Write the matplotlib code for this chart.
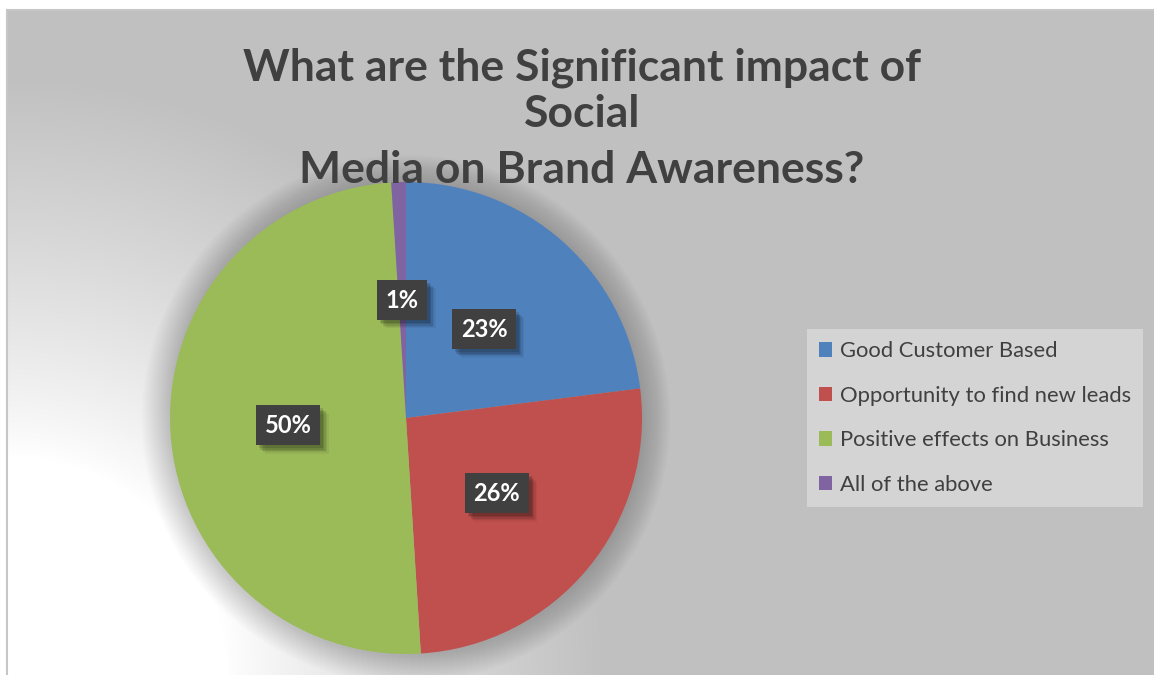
import numpy as np
import matplotlib
matplotlib.use("Agg")
import matplotlib.pyplot as plt
from matplotlib.patches import Circle
import matplotlib.patheffects as pe

# Survey data
categories = ["Good Customer Based", "Opportunity to find new leads",
              "Positive effects on Business", "All of the above"]
shares = [23, 26, 50, 1]
colors = ["#4f81bd", "#c0504d", "#9bbb59", "#8064a2"]
title_lines = ["What are the Significant impact of", "Social",
               "Media on Brand Awareness?"]

W, H = 1154, 675
fig = plt.figure(figsize=(W / 100, H / 100), dpi=100)
fig.patch.set_facecolor("white")

# Chart area with radial white-to-grey gradient from the lower-left corner
left_px, top_px = 7, 10
bg = fig.add_axes([left_px / W, 0, 1 - left_px / W, 1 - top_px / H])
gw, gh = W - left_px, H - top_px
yy, xx = np.mgrid[0:gh, 0:gw]
dist = np.hypot(xx, gh - yy)
t = np.clip((dist - 220) / (600 - 220), 0, 1)
t = t ** 0.85
level = 1.0 - t * (1.0 - 192 / 255)
bg.imshow(np.dstack([level] * 3), extent=(0, gw, gh, 0), aspect="auto",
          interpolation="bilinear")
bg.set_xlim(0, gw)
bg.set_ylim(gh, 0)
bg.set_xticks([])
bg.set_yticks([])
for side in ("bottom", "right"):
    bg.spines[side].set_visible(False)
for side in ("left", "top"):
    bg.spines[side].set_color("#c6c6c6")
    bg.spines[side].set_linewidth(1.5)

# Pie axes
cx, cy, R = 406, 418, 236
scale = 1.25
ax = fig.add_axes([(cx - R * scale) / W, (H - cy - R * scale) / H,
                   2 * R * scale / W, 2 * R * scale / H])
ax.axis("off")

# soft shadow around the pie
n = 16
for i in range(n):
    ax.add_patch(Circle((0.0, -0.005), 1.0 + 0.12 * (i + 1) / n,
                        facecolor="black", edgecolor="none", alpha=0.011,
                        zorder=0))

wedges, texts, autotexts = ax.pie(
    shares, colors=colors, startangle=90, counterclock=False, radius=1.0,
    autopct="%1.0f%%", pctdistance=0.5,
    wedgeprops=dict(linewidth=0, zorder=2),
    textprops=dict(color="white", fontsize=17, fontweight="bold",
                   family="Lato"))
ax.set_xlim(-scale, scale)
ax.set_ylim(-scale, scale)

# dark data-label boxes with a soft drop shadow
shadow = [pe.SimplePatchShadow(offset=(o, -o), shadow_rgbFace="black",
                               alpha=a)
          for o, a in ((6, 0.05), (5, 0.07), (4, 0.09), (3, 0.12), (2, 0.12))]
for at in autotexts:
    at.set_zorder(5)
    at.set_bbox(dict(boxstyle="square,pad=0.36", facecolor="#404040",
                     edgecolor="none", linewidth=0))
    at.get_bbox_patch().set_path_effects(shadow + [pe.Normal()])

# Title
title_y = [68, 114, 170]
for line, y in zip(title_lines, title_y):
    fig.text(582 / W, 1 - y / H, line, ha="center", va="center",
             fontsize=32, fontweight="bold", color="#404040", family="Lato")

# Legend
leg = fig.legend(wedges, categories, loc="center",
                 bbox_to_anchor=(807 / W, 1 - 508 / H, 336 / W, 180 / H),
                 frameon=True, fancybox=False, facecolor="#d4d4d4",
                 edgecolor="none", framealpha=1.0,
                 prop=dict(family="Lato", size=15.8),
                 handlelength=0.62, handleheight=0.62, handletextpad=0.35,
                 labelspacing=1.12, borderpad=0.55, borderaxespad=0)
for txt in leg.get_texts():
    txt.set_color("#404040")

fig.savefig("out.png", dpi=100, facecolor="white")
